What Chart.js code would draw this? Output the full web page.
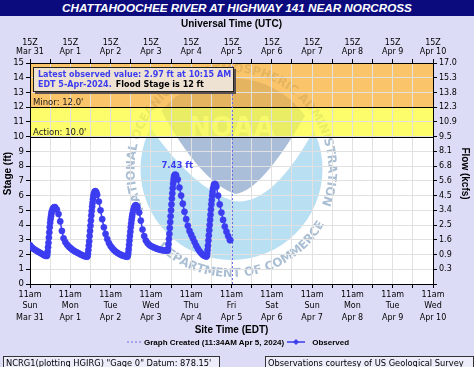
<!DOCTYPE html>
<html>
<head>
<meta charset="utf-8">
<script src="https://cdn.jsdelivr.net/npm/chart.js@4.4.1/dist/chart.umd.min.js"></script>
<style>
  html, body { margin: 0; padding: 0; width: 474px; height: 367px; overflow: hidden; background: #dcdcf6; }
  #wrap { position: relative; width: 474px; height: 367px; }
  #chart { position: absolute; left: 0; top: 0; }
  #title { position: absolute; left: 0; top: 0; width: 474px; height: 16px; background: #0b0b7e; color: #fff;
           font: italic bold 11.7px "Liberation Sans", Arial, sans-serif; text-align: center; line-height: 16px; }
  #legend { position: absolute; left: 127px; top: 336px; height: 12px; display: flex; align-items: center;
            font: bold 8px "Liberation Sans", Arial, sans-serif; color: #000; white-space: nowrap; }
  #legend svg { margin: 0 3px 0 0; }
  .foot { position: absolute; top: 356px; height: 16px; border: 1px solid #333; background: #ececfa;
          font: 8.3px "DejaVu Sans", sans-serif; line-height: 12px; padding-left: 2px; white-space: nowrap; color: #000; }
</style>
</head>
<body>
<div id="wrap">
  <canvas id="chart" width="474" height="367"></canvas>
  <div id="title">CHATTAHOOCHEE RIVER AT HIGHWAY 141 NEAR NORCROSS</div>
  <div id="legend">
    <svg width="14" height="6"><line x1="0" y1="3" x2="14" y2="3" stroke="#6a6ae6" stroke-width="1" stroke-dasharray="2,2"/></svg>
    <span style="margin-right:3px">Graph Created (11:34AM Apr 5, 2024)</span>
    <svg width="18" height="8"><line x1="0" y1="4" x2="18" y2="4" stroke="#3c3cf0" stroke-width="1.5"/><path d="M9 1 L12 4 L9 7 L6 4 Z" fill="#3c3cf0"/></svg>
    <span style="margin-left:4px">Observed</span>
  </div>
  <div class="foot" style="left:3px;width:213px;">NCRG1(plotting HGIRG) "Gage 0" Datum: 878.15'</div>
  <div class="foot" style="left:265px;width:205px;">Observations courtesy of US Geological Survey</div>
</div>
<script>
// hours after 11am EDT Sun Mar 31, 2024
const obsHours = [
  0, 1, 2, 3, 4, 5, 6, 7, 8, 9, 10,
  10.25, 10.5, 10.75, 11, 11.25, 11.5, 11.75, 12, 12.25, 12.5, 12.75, 13, 13.5, 14, 14.5, 15,
  16, 17, 18, 19, 20, 21, 22, 23, 24, 25, 26, 27, 28, 29, 30, 31, 32, 33, 34,
  34.25, 34.5, 34.75, 35, 35.25, 35.5, 35.75, 36, 36.25, 36.5, 36.75, 37, 37.25, 37.5, 37.75, 38, 38.5, 39, 39.5,
  40, 41, 42, 43, 44, 45, 46, 47, 48, 49, 50, 51, 52, 53, 54, 55, 56, 57, 58,
  58.25, 58.5, 58.75, 59, 59.25, 59.5, 59.75, 60, 60.25, 60.5, 60.75, 61, 61.5, 62, 62.5, 63, 63.5,
  64, 65, 66, 67, 68, 69, 70, 71, 72, 73, 74, 75, 76, 77, 78, 79, 80, 81, 82,
  82.25, 82.5, 82.75, 83, 83.25, 83.5, 83.75, 84, 84.25, 84.5, 84.75, 85, 85.25, 85.5, 85.75, 86, 86.5, 87,
  88, 89, 90, 91, 92, 93, 94, 95, 96, 97, 98, 99, 100, 101, 102, 103, 104, 105,
  105.25, 105.5, 105.75, 106, 106.25, 106.5, 106.75, 107, 107.25, 107.5, 107.75, 108, 108.25, 108.5, 108.75, 109, 109.5, 110, 110.5,
  111, 112, 113, 114, 115, 116, 117, 118, 119, 119.25
];
const obsStage = [
  2.64, 2.50, 2.40, 2.32, 2.25, 2.18, 2.12, 2.05, 1.98, 1.92, 1.90,
  2.00, 2.20, 2.50, 2.80, 3.15, 3.50, 3.85, 4.15, 4.40, 4.60, 4.78, 4.92, 5.08, 5.17, 5.22, 5.20,
  5.05, 4.75, 4.25, 3.60, 3.10, 2.85, 2.68, 2.55, 2.45, 2.35, 2.27, 2.20, 2.14, 2.08, 2.02, 1.96, 1.91, 1.87, 1.85,
  1.90, 2.05, 2.30, 2.60, 2.90, 3.25, 3.60, 3.95, 4.30, 4.65, 4.95, 5.25, 5.50, 5.75, 5.95, 6.12, 6.27, 6.30, 6.22,
  6.05, 5.60, 5.00, 4.40, 3.85, 3.40, 3.05, 2.78, 2.58, 2.43, 2.30, 2.20, 2.12, 2.05, 1.99, 1.94, 1.90, 1.86, 1.85,
  1.95, 2.10, 2.35, 2.65, 2.95, 3.25, 3.55, 3.85, 4.10, 4.35, 4.55, 4.75, 5.00, 5.20, 5.30, 5.35, 5.30,
  5.20, 4.85, 4.30, 3.70, 3.25, 2.95, 2.78, 2.66, 2.58, 2.52, 2.47, 2.42, 2.38, 2.34, 2.31, 2.29, 2.28, 2.27, 2.27,
  2.40, 2.70, 3.05, 3.40, 3.80, 4.20, 4.60, 5.00, 5.40, 5.80, 6.15, 6.50, 6.80, 7.05, 7.25, 7.38, 7.43, 7.38,
  7.10, 6.55, 6.00, 5.45, 4.90, 4.40, 3.95, 3.60, 3.35, 3.10, 2.85, 2.60, 2.40, 2.22, 2.08, 1.97, 1.90, 1.86,
  1.90, 2.05, 2.30, 2.60, 2.95, 3.30, 3.65, 4.00, 4.35, 4.70, 5.05, 5.40, 5.70, 6.00, 6.25, 6.50, 6.72, 6.80, 6.75,
  6.60, 6.00, 5.40, 4.85, 4.35, 3.90, 3.55, 3.25, 3.00, 2.97
];
const createdHour = 120.57;   // graph created 11:34AM Apr 5
const actionStage = 10;
const minorStage = 12;
const stageMax = 15;
const dayNames = ['Sun', 'Mon', 'Tue', 'Wed', 'Thu', 'Fri', 'Sat', 'Sun', 'Mon', 'Tue', 'Wed'];
const dayDates = ['Mar 31', 'Apr 1', 'Apr 2', 'Apr 3', 'Apr 4', 'Apr 5', 'Apr 6', 'Apr 7', 'Apr 8', 'Apr 9', 'Apr 10'];
const flowLabels = ['', '0.3', '0.9', '1.6', '2.5', '3.4', '4.5', '5.6', '6.8', '8.1', '9.5', '10.9', '12.3', '13.8', '15.3', '17.0'];

const BLUE = '#3c3cf0';

function arcText(ctx, text, cx, cy, r, a0, a1, inward) {
  const widths = [...text].map(c => ctx.measureText(c).width);
  const total = widths.reduce((s, w) => s + w, 0);
  const span = a1 - a0;
  let acc = 0;
  [...text].forEach((c, i) => {
    const a = a0 + span * (acc + widths[i] / 2) / total;
    acc += widths[i];
    ctx.save();
    ctx.translate(cx + r * Math.cos(a), cy + r * Math.sin(a));
    ctx.rotate(inward ? a - Math.PI / 2 : a + Math.PI / 2);
    ctx.fillText(c, 0, 0);
    ctx.restore();
  });
}

// faint agency seal behind the plot
function drawSeal(ctx, cx, cy) {
  const r = 91;
  const pt = a => [cx + r * Math.cos(a), cy + r * Math.sin(a)];
  ctx.save();
  ctx.fillStyle = '#b9dff3';
  ctx.beginPath(); ctx.arc(cx, cy, r, 0, Math.PI * 2); ctx.fill();
  // white bird
  ctx.fillStyle = '#ffffff';
  ctx.beginPath();
  ctx.arc(cx, cy, r, Math.PI * 1.15, Math.PI * 1.86);
  ctx.quadraticCurveTo(cx + 40, cy + 38, cx + 2, cy + 32);
  ctx.quadraticCurveTo(cx - 38, cy + 20, ...pt(Math.PI * 1.15));
  ctx.fill();
  // darker bowl
  ctx.fillStyle = '#abbed9';
  ctx.beginPath();
  ctx.arc(cx, cy, r, Math.PI * 1.22, Math.PI * 1.8);
  ctx.quadraticCurveTo(cx + 30, cy + 22, cx + 4, cy + 25);
  ctx.quadraticCurveTo(cx - 30, cy + 14, ...pt(Math.PI * 1.22));
  ctx.fill();
  ctx.fillStyle = '#e9eff6';
  ctx.font = 'bold 27px "DejaVu Sans"';
  ctx.textAlign = 'center'; ctx.textBaseline = 'middle';
  ctx.fillText('NOAA', cx, cy - 40);
  ctx.fillStyle = '#abbfd4';
  ctx.font = 'bold 12px "DejaVu Sans"';
  ctx.textBaseline = 'alphabetic';
  arcText(ctx, 'NATIONAL OCEANIC AND ATMOSPHERIC ADMINISTRATION', cx, cy, 97, Math.PI * 0.86, Math.PI * 2.12, false);
  arcText(ctx, 'DEPARTMENT OF COMMERCE', cx, cy, 108, Math.PI * 0.74, Math.PI * 0.17, true);
  ctx.restore();
}

const floodPlugin = {
  id: 'flood',
  beforeDraw(chart) {
    const { ctx, chartArea: ca, scales: { y } } = chart;
    ctx.save();
    ctx.beginPath(); ctx.rect(ca.left, ca.top, ca.width, ca.height); ctx.clip();
    ctx.fillStyle = '#ffffff';
    ctx.fillRect(ca.left, ca.top, ca.width, ca.height);
    drawSeal(ctx, (ca.left + ca.right) / 2, ca.top + 106);
    const yA = y.getPixelForValue(actionStage);
    const yM = y.getPixelForValue(minorStage);
    const yT = y.getPixelForValue(stageMax);
    ctx.fillStyle = 'rgba(252, 252, 59, 0.75)';
    ctx.fillRect(ca.left, yM, ca.width, yA - yM);
    ctx.fillStyle = 'rgba(248, 176, 56, 0.75)';
    ctx.fillRect(ca.left, yT, ca.width, yM - yT);
    ctx.restore();
  },
  beforeDatasetsDraw(chart) {
    const { ctx, chartArea: ca, scales: { y } } = chart;
    ctx.save();
    ctx.strokeStyle = '#000'; ctx.lineWidth = 1;
    ctx.fillStyle = '#1a1a1a';
    ctx.font = '8.5px "DejaVu Sans"';
    ctx.textBaseline = 'alphabetic';
    [[actionStage, 'Action: '], [minorStage, 'Minor: ']].forEach(([v, name]) => {
      const py = Math.round(y.getPixelForValue(v)) + 0.5;
      ctx.beginPath(); ctx.moveTo(ca.left, py); ctx.lineTo(ca.right, py); ctx.stroke();
      ctx.fillText(name + v.toFixed(1) + "'", ca.left + 3, py - 3);
    });
    ctx.restore();
  },
  afterDatasetsDraw(chart) {
    const { ctx, chartArea: ca, scales: { x, y } } = chart;
    ctx.save();
    // peak label
    let pk = 0;
    obsStage.forEach((v, i) => { if (v > obsStage[pk]) pk = i; });
    ctx.fillStyle = BLUE;
    ctx.font = 'bold 8.5px "DejaVu Sans"';
    ctx.textAlign = 'center'; ctx.textBaseline = 'alphabetic';
    ctx.fillText(obsStage[pk].toFixed(2) + ' ft', x.getPixelForValue(obsHours[pk]) + 2, y.getPixelForValue(obsStage[pk]) - 7);
    // latest value box
    const bx = ca.left + 3, by = ca.top + 4, bw = 201, bh = 25;
    ctx.fillStyle = '#5a5050';
    ctx.fillRect(bx + 2, by + 2, bw, bh);
    ctx.fillStyle = '#eee2d2';
    ctx.fillRect(bx, by, bw, bh);
    ctx.strokeStyle = '#222';
    ctx.strokeRect(bx + 0.5, by + 0.5, bw - 1, bh - 1);
    const last = obsStage.length - 1;
    ctx.textAlign = 'left'; ctx.textBaseline = 'middle';
    ctx.font = 'bold 8px "DejaVu Sans"';
    ctx.fillStyle = BLUE;
    const line1 = 'Latest observed value: ' + obsStage[last].toFixed(2) + ' ft at 10:15 AM';
    ctx.fillText(line1, bx + 5, by + 8);
    const part = 'EDT 5-Apr-2024.';
    ctx.fillText(part, bx + 5, by + 17.5);
    ctx.fillStyle = '#000';
    ctx.fillText('Flood Stage is ' + minorStage + ' ft', bx + 9 + ctx.measureText(part).width, by + 17.5);
    ctx.restore();
  }
};

const tickFont = { family: 'DejaVu Sans', size: 8 };
const titleFont = { family: 'Liberation Sans', size: 10, weight: 'bold' };
const gridColor = '#e1e1e1';

new Chart(document.getElementById('chart'), {
  type: 'line',
  data: {
    datasets: [
      {
        label: 'Observed',
        data: obsHours.map((h, i) => ({ x: h, y: obsStage[i] })),
        xAxisID: 'x', yAxisID: 'y',
        borderColor: BLUE, backgroundColor: BLUE, borderWidth: 1.5,
        pointStyle: 'circle', pointRadius: 3.1, pointBorderWidth: 0.5,
        tension: 0
      },
      {
        label: 'Graph Created',
        data: [{ x: createdHour, y: 0 }, { x: createdHour, y: stageMax }],
        xAxisID: 'x', yAxisID: 'y',
        borderColor: '#6a6ae6', borderWidth: 1, borderDash: [2, 2], pointRadius: 0
      }
    ]
  },
  options: {
    responsive: false,
    animation: false,
    layout: { padding: { top: 0, left: 0, right: 0, bottom: 29 } },
    plugins: { legend: { display: false }, tooltip: { enabled: false } },
    scales: {
      x: {
        type: 'linear', position: 'bottom', min: 0, max: 240,
        afterFit: s => { s.height = 54; },
        ticks: {
          stepSize: 12, autoSkip: false, maxRotation: 0, padding: 1, color: '#000',
          font: { ...tickFont, lineHeight: 1.45 },
          callback: v => v % 24 === 0 ? ['11am', dayNames[v / 24], dayDates[v / 24]] : ''
        },
        grid: { color: gridColor, tickLength: 4, tickColor: '#000' },
        border: { color: '#000', width: 1 },
        title: { display: true, text: 'Site Time (EDT)', font: titleFont, color: '#000', padding: { top: 0, bottom: 2 } }
      },
      x2: {
        type: 'linear', position: 'top', min: 0, max: 240,
        afterFit: s => { s.height = 63; },
        ticks: {
          stepSize: 12, autoSkip: false, maxRotation: 0, padding: 2, color: '#000',
          font: { ...tickFont, lineHeight: 1.15 },
          callback: v => v % 24 === 0 ? ['15Z', dayDates[v / 24]] : ''
        },
        grid: { drawOnChartArea: false, tickLength: 4, tickColor: '#000' },
        border: { color: '#000', width: 1 },
        title: { display: true, text: 'Universal Time (UTC)', font: titleFont, color: '#000', padding: { top: 18, bottom: 0 } }
      },
      y: {
        position: 'left', min: 0, max: stageMax,
        afterFit: s => { s.width = 30; },
        ticks: { stepSize: 1, padding: 2, color: '#000', font: { family: 'DejaVu Sans', size: 8.5 } },
        grid: { color: gridColor, tickLength: 4, tickColor: '#000' },
        border: { color: '#000', width: 1 },
        title: { display: true, text: 'Stage (ft)', font: titleFont, color: '#000', padding: { top: 2, bottom: 0 } }
      },
      y2: {
        position: 'right', min: 0, max: stageMax,
        afterFit: s => { s.width = 41; },
        ticks: { stepSize: 1, padding: 2, color: '#000', font: tickFont, callback: v => flowLabels[v] },
        grid: { drawOnChartArea: false, tickLength: 4, tickColor: '#000' },
        border: { color: '#000', width: 1 },
        title: { display: true, text: 'Flow (kcfs)', font: titleFont, color: '#000', padding: { top: 3, bottom: 0 } }
      }
    }
  },
  plugins: [floodPlugin]
});
</script>
</body>
</html>
